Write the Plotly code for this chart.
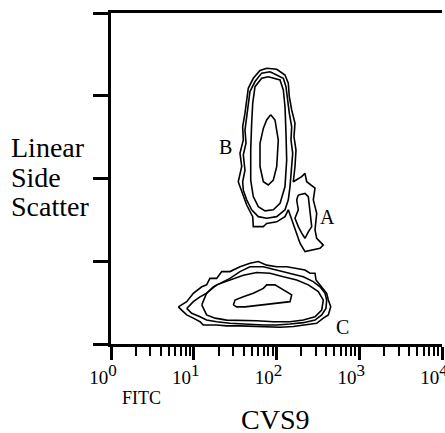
import math
import plotly.graph_objects as go

# ---- data (FITC intensity, linear side scatter 0-1024) ----
decades = [1, 10, 100, 1000, 10000]
decade_exp = ["0", "1", "2", "3", "4"]
minor_vals = [m * d for d in [1, 10, 100, 1000] for m in range(2, 10)]
ssc_ticks = [0, 256, 512, 768, 1024]

# cluster B (outer contour merged with cluster A outer contour)
b1_x = [76.1, 100.6, 126.7, 138.9, 142.8, 152.6, 167.3, 162.7, 172.0, 167.3, 159.6,
        201.6, 221.0, 231.7, 292.0, 278.4, 306.0, 292.0, 306.0, 367.8, 335.5, 266.3, 221.0,
        192.3, 175.4, 159.6, 145.6, 138.9,
        126.7, 100.6, 76.1, 69.3, 52.4, 51.6,
        43.6, 39.7, 34.5, 38.0, 36.2, 39.7, 39.0, 41.6, 43.6, 45.6, 52.4, 63.2, 76.1]
b1_y = [853, 850, 832, 807, 765, 724, 683, 641, 600, 549, 502,
        518, 528, 502, 482, 446, 404, 353, 327, 306, 296, 291, 286,
        312, 343, 373, 399, 415,
        394, 378, 373, 363, 363, 394,
        430, 461, 502, 549, 590, 631, 672, 714, 755, 791, 822, 846, 853]
b2_x = [83.4, 120.9, 130.2, 135.0, 142.8, 152.6, 149.7, 157.0, 152.6, 145.6, 138.9, 126.7,
        100.6, 76.1, 60.3, 50.1, 43.6, 39.7, 39.0, 41.6, 39.7, 42.8, 41.6, 43.6, 45.6, 47.8,
        55.0, 66.2, 83.4]
b2_y = [842, 822, 796, 755, 714, 672, 631, 590, 538, 487, 446, 415,
        394, 389, 394, 415, 446, 476, 502, 538, 585, 621, 662, 703, 745, 781,
        812, 838, 842]
b3_x = [79.6, 110.3, 120.9, 126.7, 130.2, 132.8, 126.7, 110.3, 91.5, 72.6, 60.3, 52.4,
        48.8, 48.8, 50.1, 51.6, 55.0, 66.2, 79.6]
b3_y = [827, 817, 786, 734, 652, 569, 487, 435, 415, 412, 425, 456,
        507, 600, 683, 745, 796, 822, 827]
b4_x = [85.1, 95.9, 105.1, 100.6, 91.5, 79.6, 69.3, 63.2, 63.2, 69.3, 76.1, 85.1]
b4_y = [709, 693, 631, 549, 507, 492, 502, 549, 621, 667, 693, 709]

# cluster A inner contour
a2_x = [183.4, 221.0, 242.3, 254.0, 266.3, 242.3, 221.0, 201.6, 183.4, 167.3, 183.4, 175.4, 183.4]
a2_y = [461, 466, 456, 404, 363, 347, 327, 343, 363, 389, 415, 446, 461]

# cluster C
c1_x = [6.51, 8.22, 9.88, 12.5, 14.3, 15.7, 18.9, 21.8, 27.4, 36.2, 47.8, 60.3, 76.1, 101,
        133, 175, 221, 254, 292, 300, 352, 404, 423, 452, 423, 368, 306, 232, 160, 110,
        76.1, 52.4, 36.2, 25.0, 18.9, 13.0, 11.9, 9.88, 8.22, 7.47, 6.51]
c1_y = [115, 131, 157, 177, 183, 203, 203, 224, 224, 239, 250, 255, 244, 239,
        239, 234, 229, 219, 219, 198, 177, 157, 136, 115, 90, 80, 64, 59, 54, 52,
        54, 56, 56, 56, 59, 59, 69, 80, 90, 100, 115]
c2_x = [8.22, 9.88, 11.9, 14.3, 17.2, 20.8, 27.4, 36.2, 47.8, 69.3, 101, 146, 211, 278,
        336, 386, 404, 396, 352, 292, 211, 146, 101, 69.3, 43.6, 27.4, 18.9, 14.3, 11.9,
        9.45, 8.22]
c2_y = [110, 131, 146, 157, 177, 188, 203, 224, 239, 239, 229, 219, 208, 193,
        177, 157, 136, 110, 90, 74, 66, 62, 59, 59, 62, 64, 69, 74, 84,
        95, 110]
c3_x = [12.5, 14.3, 18.9, 27.4, 39.7, 57.6, 83.4, 120.9, 175.4, 242.3, 320.1, 367.8, 351.7,
        292, 210.8, 145.6, 91.5, 57.6, 36.2, 25.0, 18.1, 14.3, 12.5]
c3_y = [121, 157, 183, 198, 213, 221, 219, 208, 198, 183, 162, 136, 105,
        84, 74, 69, 69, 72, 72, 74, 80, 90, 121]
c4_x = [30.1, 31.5, 39.7, 52.4, 69.3, 76.1, 95.9, 120.9, 152.6, 145.6, 100.6, 69.3, 52.4,
        41.6, 33.0, 30.1]
c4_y = [121, 136, 146, 157, 172, 183, 183, 167, 152, 131, 126, 121, 118,
        115, 115, 121]

contours = [(b1_x, b1_y), (b2_x, b2_y), (b3_x, b3_y), (b4_x, b4_y), (a2_x, a2_y),
            (c1_x, c1_y), (c2_x, c2_y), (c3_x, c3_y), (c4_x, c4_y)]

cluster_labels = [("B", 23.9, 610), ("A", 419, 394), ("C", 628, 54)]

SERIF = "Liberation Serif, Times New Roman, serif"

decade_labels = ["10<sup><span style='font-size:17px'>%s</span></sup>" % e for e in decade_exp]

fig = go.Figure()
for cx, cy in contours:
    fig.add_trace(go.Scatter(x=cx, y=cy, mode="lines",
                             line=dict(color="black", width=1.6),
                             hoverinfo="skip", showlegend=False))

for txt, lx, ly in cluster_labels:
    fig.add_annotation(x=math.log10(lx), y=ly, xref="x", yref="y", text=txt,
                       showarrow=False, font=dict(family=SERIF, size=20, color="black"))

# y-axis title (three lines)
for txt, py in [("Linear", 0.595), ("Side", 0.504), ("Scatter", 0.414)]:
    fig.add_annotation(x=-0.307, y=py, xref="paper", yref="paper", text=txt,
                       xanchor="left", yanchor="middle", showarrow=False,
                       font=dict(family=SERIF, size=28, color="black"))

fig.add_annotation(x=0.093, y=-0.163, xref="paper", yref="paper", text="FITC",
                   showarrow=False, xanchor="center", yanchor="middle",
                   font=dict(family=SERIF, size=18, color="black"))
fig.add_annotation(x=0.494, y=-0.228, xref="paper", yref="paper", text="CVS9",
                   showarrow=False, xanchor="center", yanchor="middle",
                   font=dict(family=SERIF, size=28, color="black"))

fig.update_layout(
    width=445, height=433,
    margin=dict(l=111, r=3, t=13, b=89),
    paper_bgcolor="white", plot_bgcolor="white",
    showlegend=False,
)
fig.update_xaxes(
    type="log", range=[0, 4], automargin=False,
    tickmode="array", tickvals=decades, ticktext=decade_labels,
    ticks="outside", ticklen=13, tickwidth=3, tickcolor="black",
    ticklabelshift=-8, ticklabelstandoff=1, ticklabeloverflow="allow",
    minor=dict(tickmode="array", tickvals=minor_vals, ticks="outside",
               ticklen=9, tickwidth=2, tickcolor="black", showgrid=False),
    showline=True, linewidth=3, linecolor="black", mirror=True,
    showgrid=False, zeroline=False,
    tickfont=dict(family=SERIF, size=19, color="black"),
)
fig.update_yaxes(
    range=[0, 1024], automargin=False, tickmode="array", tickvals=ssc_ticks,
    ticks="outside", ticklen=15, tickwidth=3, tickcolor="black",
    showticklabels=False,
    showline=True, linewidth=3, linecolor="black",
    showgrid=False, zeroline=False,
)

fig.write_html("out.html")
